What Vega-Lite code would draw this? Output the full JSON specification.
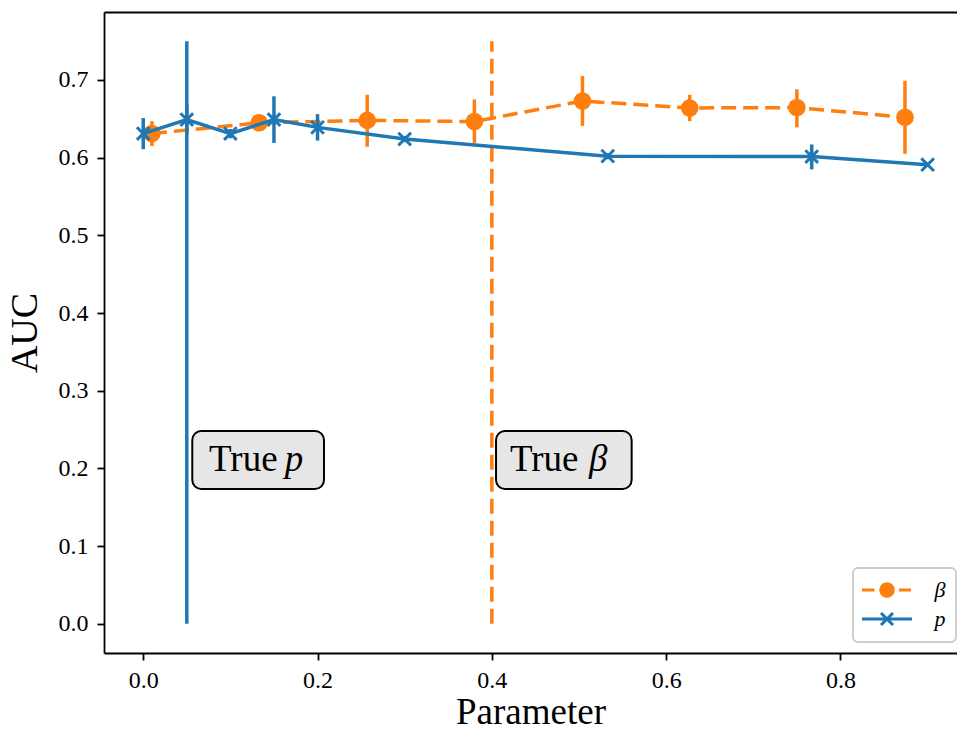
{
  "$schema": "https://vega.github.io/schema/vega-lite/v6.json",
  "width": 853,
  "height": 641,
  "autosize": {"type": "none"},
  "padding": {"left": 104, "top": 12, "right": 0, "bottom": 78},
  "background": "white",
  "config": {
    "view": {"stroke": null},
    "font": "Liberation Serif",
    "axis": {
      "grid": false,
      "domainColor": "black",
      "domainWidth": 1.8,
      "tickColor": "black",
      "tickWidth": 1.8,
      "tickSize": 7,
      "labelFont": "Liberation Serif",
      "labelFontSize": 24,
      "labelColor": "black",
      "labelFlush": false,
      "labelOverlap": false,
      "titleFont": "Liberation Serif",
      "titleFontSize": 38,
      "titleFontWeight": "normal",
      "titleColor": "black"
    }
  },
  "datasets": {
    "series": [
      {"s": "β", "x": 0.010, "y": 0.631, "lo": 0.615, "hi": 0.647},
      {"s": "β", "x": 0.133, "y": 0.645, "lo": 0.637, "hi": 0.653},
      {"s": "β", "x": 0.257, "y": 0.648, "lo": 0.614, "hi": 0.681},
      {"s": "β", "x": 0.380, "y": 0.6465, "lo": 0.619, "hi": 0.675},
      {"s": "β", "x": 0.504, "y": 0.673, "lo": 0.641, "hi": 0.705},
      {"s": "β", "x": 0.627, "y": 0.664, "lo": 0.647, "hi": 0.681},
      {"s": "β", "x": 0.750, "y": 0.6645, "lo": 0.639, "hi": 0.688},
      {"s": "β", "x": 0.874, "y": 0.652, "lo": 0.605, "hi": 0.699},
      {"s": "p", "x": 0.0, "y": 0.631, "lo": 0.611, "hi": 0.651},
      {"s": "p", "x": 0.05, "y": 0.649, "lo": 0.630, "hi": 0.668},
      {"s": "p", "x": 0.1, "y": 0.631, "lo": 0.625, "hi": 0.637},
      {"s": "p", "x": 0.15, "y": 0.649, "lo": 0.619, "hi": 0.679},
      {"s": "p", "x": 0.2, "y": 0.639, "lo": 0.622, "hi": 0.656},
      {"s": "p", "x": 0.3, "y": 0.624, "lo": 0.620, "hi": 0.628},
      {"s": "p", "x": 0.533, "y": 0.602, "lo": 0.598, "hi": 0.606},
      {"s": "p", "x": 0.767, "y": 0.6015, "lo": 0.585, "hi": 0.617},
      {"s": "p", "x": 0.9, "y": 0.591, "lo": 0.588, "hi": 0.594}
    ],
    "truth": [
      {"s": "β", "x": 0.4, "y0": 0.0, "y1": 0.75},
      {"s": "p", "x": 0.05, "y0": 0.0, "y1": 0.75}
    ],
    "notes": [
      {"v": "p", "x1": 0.0563, "x2": 0.2074, "y1": 0.1736, "y2": 0.2482, "tx": 0.0755, "vx": 0.1625, "ty": 0.197},
      {"v": "β", "x1": 0.4048, "x2": 0.5604, "y1": 0.1736, "y2": 0.2482, "tx": 0.4208, "vx": 0.5114, "ty": 0.197}
    ]
  },
  "resolve": {"axis": {"x": "independent"}},
  "layer": [
    {
      "data": {"name": "truth"},
      "transform": [{"filter": "datum.s === 'β'"}],
      "mark": {"type": "rule", "color": "#ff7f0e", "strokeWidth": 3.5, "strokeDash": [15, 7]},
      "encoding": {
        "x": {
          "field": "x", "type": "quantitative",
          "scale": {"domain": [-0.045, 0.9337], "nice": false, "zero": false},
          "axis": {"orient": "bottom", "values": [0, 0.2, 0.4, 0.6, 0.8], "format": ".1f", "title": "Parameter", "titleFontSize": 37, "labelPadding": 8, "titlePadding": 2}
        },
        "y": {
          "field": "y0", "type": "quantitative",
          "scale": {"domain": [-0.0375, 0.7875], "nice": false, "zero": false},
          "axis": {"values": [0, 0.1, 0.2, 0.3, 0.4, 0.5, 0.6, 0.7], "format": ".1f", "title": "AUC", "labelPadding": 9, "titlePadding": 14}
        },
        "y2": {"field": "y1"}
      }
    },
    {
      "data": {"name": "series"},
      "transform": [{"filter": "datum.s === 'β'"}],
      "mark": {"type": "line", "strokeWidth": 3.5, "strokeDash": [15, 7]},
      "encoding": {
        "x": {
          "field": "x", "type": "quantitative",
          "axis": {"orient": "top", "labels": false, "ticks": false, "title": null}
        },
        "y": {"field": "y", "type": "quantitative"},
        "color": {
          "field": "s", "type": "nominal",
          "scale": {"domain": ["β", "p"], "range": ["#ff7f0e", "#1f77b4"]},
          "legend": {
            "title": null,
            "orient": "none",
            "legendX": 749,
            "legendY": 556,
            "symbolSize": 400,
            "symbolStrokeWidth": 3,
            "symbolOffset": 12,
            "labelOffset": 47,
            "labelAlign": "right",
            "labelFont": "Liberation Serif",
            "labelFontStyle": "italic",
            "labelFontSize": 22,
            "labelColor": "black",
            "rowPadding": 4,
            "padding": 10.5,
            "fillColor": "rgba(255,255,255,0.8)",
            "strokeColor": "#cccccc",
            "cornerRadius": 5,
            "encode": {
              "legend": {"update": {"strokeWidth": {"value": 1.8}}},
              "symbols": {
                "update": {
                  "shape": {"signal": "datum.value === 'β' ? 'M-2.5,0H-1.25M1.2,0H2.4M0.62,0A0.62,0.62 0 1,1 -0.62,0A0.62,0.62 0 1,1 0.62,0Z' : 'M-2.5,0H2.5M-0.6,-0.6L0.6,0.6M-0.6,0.6L0.6,-0.6'"},
                  "fill": {"signal": "datum.value === 'β' ? '#ff7f0e' : 'transparent'"},
                  "stroke": {"signal": "datum.value === 'β' ? '#ff7f0e' : '#1f77b4'"},
                  "strokeDash": {"value": [1, 0]},
                  "opacity": {"value": 1}
                }
              }
            }
          }
        }
      }
    },
    {
      "data": {"name": "series"},
      "transform": [{"filter": "datum.s === 'β'"}],
      "mark": {"type": "rule", "color": "#ff7f0e", "strokeWidth": 3.5},
      "encoding": {
        "x": {"field": "x", "type": "quantitative", "axis": null},
        "y": {"field": "lo", "type": "quantitative"},
        "y2": {"field": "hi"}
      }
    },
    {
      "data": {"name": "series"},
      "transform": [{"filter": "datum.s === 'β'"}],
      "mark": {"type": "point", "shape": "circle", "filled": true, "size": 310, "color": "#ff7f0e", "opacity": 1, "strokeWidth": 0},
      "encoding": {
        "x": {"field": "x", "type": "quantitative", "axis": null},
        "y": {"field": "y", "type": "quantitative"}
      }
    },
    {
      "data": {"name": "series"},
      "transform": [{"filter": "datum.s === 'p'"}],
      "mark": {"type": "line", "strokeWidth": 3.5, "color": "#1f77b4"},
      "encoding": {
        "x": {"field": "x", "type": "quantitative", "axis": null},
        "y": {"field": "y", "type": "quantitative"}
      }
    },
    {
      "data": {"name": "series"},
      "transform": [{"filter": "datum.s === 'p'"}],
      "mark": {"type": "rule", "color": "#1f77b4", "strokeWidth": 3.5},
      "encoding": {
        "x": {"field": "x", "type": "quantitative", "axis": null},
        "y": {"field": "lo", "type": "quantitative"},
        "y2": {"field": "hi"}
      }
    },
    {
      "data": {"name": "series"},
      "transform": [{"filter": "datum.s === 'p'"}],
      "mark": {"type": "point", "shape": "M-1,-1L1,1M-1,1L1,-1", "filled": false, "size": 160, "strokeWidth": 3, "color": "#1f77b4", "opacity": 1},
      "encoding": {
        "x": {"field": "x", "type": "quantitative", "axis": null},
        "y": {"field": "y", "type": "quantitative"}
      }
    },
    {
      "data": {"name": "truth"},
      "transform": [{"filter": "datum.s === 'p'"}],
      "mark": {"type": "rule", "color": "#1f77b4", "strokeWidth": 3.5},
      "encoding": {
        "x": {"field": "x", "type": "quantitative", "axis": null},
        "y": {"field": "y0", "type": "quantitative"},
        "y2": {"field": "y1"}
      }
    },
    {
      "data": {"name": "notes"},
      "mark": {"type": "rect", "fill": "#e6e6e6", "stroke": "black", "strokeWidth": 2, "cornerRadius": 9},
      "encoding": {
        "x": {"field": "x1", "type": "quantitative", "axis": null},
        "x2": {"field": "x2"},
        "y": {"field": "y1", "type": "quantitative"},
        "y2": {"field": "y2"}
      }
    },
    {
      "data": {"name": "notes"},
      "mark": {"type": "text", "text": "True", "align": "left", "baseline": "alphabetic", "font": "Liberation Serif", "fontSize": 37, "color": "black"},
      "encoding": {
        "x": {"field": "tx", "type": "quantitative", "axis": null},
        "y": {"field": "ty", "type": "quantitative"}
      }
    },
    {
      "data": {"name": "notes"},
      "mark": {"type": "text", "align": "left", "baseline": "alphabetic", "font": "Liberation Serif", "fontStyle": "italic", "fontSize": 37, "color": "black"},
      "encoding": {
        "x": {"field": "vx", "type": "quantitative", "axis": null},
        "y": {"field": "ty", "type": "quantitative"},
        "text": {"field": "v"}
      }
    }
  ]
}
